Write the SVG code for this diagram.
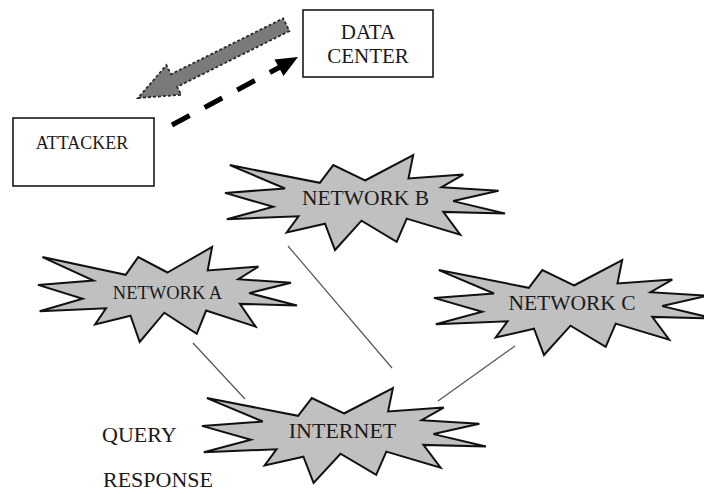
<svg xmlns="http://www.w3.org/2000/svg" width="704" height="494" viewBox="0 0 704 494">
  <style>
    .bg { fill: #ffffff; }
    .box { fill: #ffffff; stroke: #1a1a1a; stroke-width: 1.6; }
    .star { fill: #c0c0c0; stroke: #111111; stroke-width: 2; stroke-linejoin: miter; }
    .lbl { font-family: "Liberation Serif", "Times New Roman", serif; fill: #1a1a1a; }
    .link { stroke: #555555; stroke-width: 1.2; fill: none; }
    .dash { stroke: #000000; stroke-width: 5; stroke-dasharray: 20 17; fill: none; }
    .head { fill: #000000; }
    .garrow { fill: #7a7a7a; stroke: #2a2a2a; stroke-width: 1.8; stroke-dasharray: 3 2; stroke-linejoin: miter; }
  </style>
  <rect class="bg" x="0" y="0" width="704" height="494"/>

  <g id="connectors">
    <line class="link" x1="193" y1="343" x2="245" y2="399"/>
    <line class="link" x1="288" y1="246" x2="392" y2="368"/>
    <line class="link" x1="515" y1="346" x2="438" y2="401"/>
    <line class="dash" x1="172" y1="125" x2="282" y2="66"/>
    <polygon class="head" points="298,57 274.5,59.5 283.5,76"/>
    <polygon class="garrow" points="138,98 181.2,94.8 177.2,86.8 289.4,31 283.2,18.4 171,74.2 166.4,65.2"/>
  </g>

  <g id="data-center">
    <rect class="box" x="303" y="10" width="130" height="67"/>
    <text class="lbl" x="368" y="39" font-size="21" text-anchor="middle">DATA</text>
    <text class="lbl" x="368" y="63" font-size="21" text-anchor="middle">CENTER</text>
  </g>

  <g id="attacker">
    <rect class="box" x="13" y="118" width="141" height="68"/>
    <text class="lbl" x="82" y="149" font-size="18" text-anchor="middle">ATTACKER</text>
  </g>

  <g id="network-b">
    <polygon class="star" points="365,180.5 413.2,155 408.5,178.4 463.3,174.6 441.5,187.2 498.5,190.8 453.2,201.1 505,213.5 443.3,211.9 460.2,234.6 406.7,218.6 396.7,241.8 361.5,220.7 335,250 325,223.7 286.7,232.5 298.5,216.3 226.8,219.2 273.2,206.8 225,192.9 285,188.5 229.8,165.1 319.8,182.8 333.3,165.1"/>
    <text class="lbl" x="365.5" y="205" font-size="21.5" text-anchor="middle">NETWORK B</text>
  </g>

  <g id="network-a">
    <polygon class="star" points="167.5,272.5 212.1,247 207.7,270.4 258.4,266.6 238.3,279.2 291,282.8 249.1,293.1 297,305.5 239.9,303.9 255.6,326.6 206.1,310.6 196.8,333.8 164.3,312.7 139.7,342 130.5,315.7 95.1,324.5 106,308.3 39.6,311.2 82.6,298.8 38,284.9 93.5,280.5 42.4,257.1 125.7,274.8 138.2,257.1"/>
    <text class="lbl" x="167.5" y="299" font-size="18.5" text-anchor="middle">NETWORK A</text>
  </g>

  <g id="network-c">
    <polygon class="star" points="574,285.5 622.2,260 617.5,283.4 672.3,279.6 650.5,292.2 707.5,295.8 662.2,306.1 714,318.5 652.3,316.9 669.2,339.6 615.7,323.6 605.7,346.8 570.5,325.7 544,355 534,328.7 495.7,337.5 507.5,321.3 435.8,324.2 482.2,311.8 434,297.9 494,293.5 438.8,270.1 528.8,287.8 542.3,270.1"/>
    <text class="lbl" x="572" y="310" font-size="21.5" text-anchor="middle">NETWORK C</text>
  </g>

  <g id="internet">
    <polygon class="star" points="344,413.5 392.9,388 388.1,411.4 443.7,407.6 421.6,420.2 479.4,423.8 433.5,434.1 486,446.5 423.4,444.9 440.6,467.6 386.3,451.6 376.2,474.8 340.5,453.7 313.6,483 303.4,456.7 264.6,465.5 276.5,449.3 203.8,452.2 250.9,439.8 202,425.9 262.8,421.5 206.9,398.1 298.1,415.8 311.8,398.1"/>
    <text class="lbl" x="342.5" y="438" font-size="22" text-anchor="middle">INTERNET</text>
  </g>

  <g id="labels">
    <text class="lbl" x="102" y="442" font-size="22">QUERY</text>
    <text class="lbl" x="103" y="487" font-size="22">RESPONSE</text>
  </g>
</svg>
